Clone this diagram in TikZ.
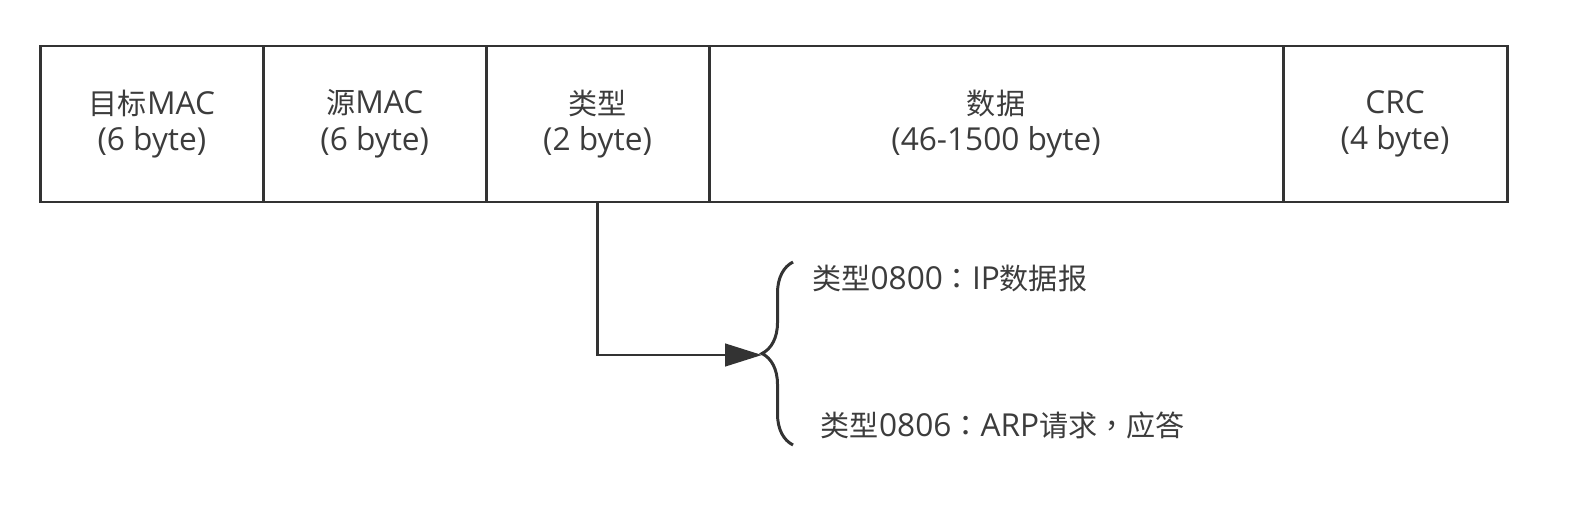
\documentclass[tikz,border=0pt]{standalone}
\usepackage{fontspec}
\setmainfont{Open Sans}
\newfontfamily\cjk{Noto Sans CJK SC}[Scale=0.92]
\newfontfamily\cjkpunct{Noto Sans CJK TC}[Scale=0.92]
\usepackage{tikz}
\usetikzlibrary{arrows.meta, positioning, decorations.pathreplacing}
\definecolor{LineGray}{HTML}{333333}
\definecolor{TextGray}{HTML}{3C3C3C}
\newcommand{\fieldfont}{\fontsize{18}{20.8}\selectfont}
\tikzset{
  % Box styles
  fieldbox/.style={rectangle, draw=LineGray, line width=1.7pt, minimum height=3.12cm, inner sep=0pt, outer sep=0pt, align=center, font=\fieldfont, text=TextGray},
  % Arrow styles
  arrow/.style={-{Triangle[length=0.74cm, width=0.45cm]}, line width=1.7pt, LineGray},
  bracestyle/.style={decorate, decoration={brace, amplitude=0.62cm, aspect=0.5}, line width=1.7pt, LineGray},
  % Label styles
  typelabel/.style={anchor=west, inner sep=0pt, font=\fieldfont, text=TextGray}
}

\begin{document}
\begin{tikzpicture}
  \useasboundingbox (0,0) rectangle (31.76,-10.16);

  % Frame fields
  \node[fieldbox, minimum width=4.456cm, anchor=north west] (dmac) at (0.81,-0.92) {{\cjk 目标}MAC\\(6 byte)};
  \node[fieldbox, minimum width=4.456cm, right=0pt of dmac] (smac) {{\cjk 源}MAC\\(6 byte)};
  \node[fieldbox, minimum width=4.458cm, right=0pt of smac] (etype) {{\cjk 类型}\\(2 byte)};
  \node[fieldbox, minimum width=11.48cm, right=0pt of etype] (data) {{\cjk 数据}\\(46-1500 byte)};
  \node[fieldbox, minimum width=4.48cm, right=0pt of data] (crc) {CRC\\(4 byte)};

  % Type values
  \coordinate (brtip) at (15.24,-7.1);
  \coordinate (brlow) at (15.86,-8.9);
  \coordinate (brhigh) at (15.86,-5.24);
  \draw[bracestyle] (brlow) -- (brhigh);
  \node[typelabel] (ipv4) at (16.24,-5.57) {{\cjk 类型}0800{\cjkpunct ：}IP{\cjk 数据报}};
  \node[typelabel] (arp) at (16.41,-8.51) {{\cjk 类型}0806{\cjkpunct ：}ARP{\cjk 请求}{\cjkpunct ，}{\cjk 应答}};

  % Arrow
  \draw[arrow] (etype.south) |- (brtip);
\end{tikzpicture}
\end{document}
